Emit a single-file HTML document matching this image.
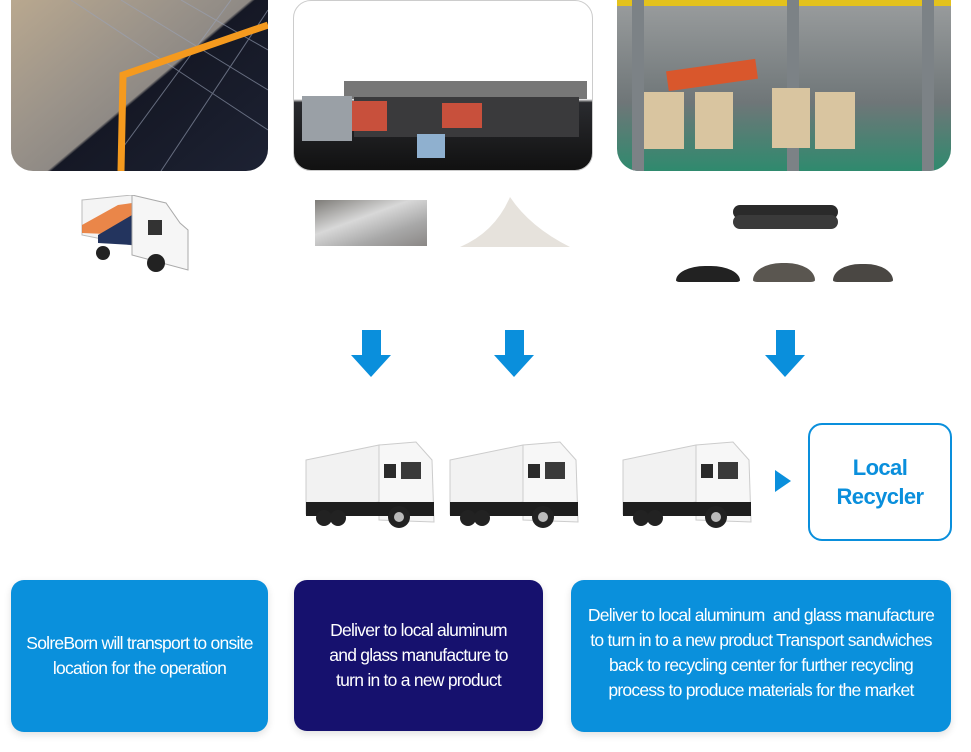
<!DOCTYPE html>
<html><head><meta charset="utf-8"><style>
body{margin:0;width:971px;height:752px;background:#fff;position:relative;overflow:hidden;font-family:"Liberation Sans",sans-serif}
.a{position:absolute}
.box{position:absolute;border-radius:13px;color:#fff;display:flex;align-items:center;justify-content:center;text-align:center;font-size:17.5px;line-height:25px;letter-spacing:-0.75px;box-shadow:0 3px 8px rgba(0,0,0,.12)}
.pile{position:absolute;height:16px;border-radius:50% 50% 8% 8%/100% 100% 10% 10%}
</style></head><body>
<!-- photo 1 -->
<div class="a" style="left:11px;top:0;width:257px;height:171px;border-radius:0 0 22px 22px;overflow:hidden;background:linear-gradient(140deg,#b9a88f 0%,#9c948a 35%,#8f8a85 52%,#151825 53%,#1d2233 100%)">
<svg width="257" height="171" style="position:absolute;left:0;top:0"><g stroke="#9aa3b8" stroke-width="1" opacity=".6"><line x1="60" y1="0" x2="257" y2="130"/><line x1="110" y1="0" x2="257" y2="90"/><line x1="170" y1="0" x2="257" y2="50"/><line x1="257" y1="10" x2="150" y2="171"/><line x1="220" y1="0" x2="110" y2="150"/></g><polyline points="110,171 112,75 257,25" fill="none" stroke="#f59a1e" stroke-width="7"/></svg></div>
<!-- photo 2 -->
<div class="a" style="left:293px;top:0;width:298px;height:169px;border:1px solid #ccc;border-radius:18px;overflow:hidden;background:linear-gradient(#fff 0,#fff 58%,#2a2b2f 60%,#111 100%)">
<div class="a" style="left:50px;top:80px;width:243px;height:18px;background:#777"></div>
<div class="a" style="left:60px;top:96px;width:225px;height:40px;background:#3a3a3c"></div>
<div class="a" style="left:58px;top:100px;width:35px;height:30px;background:#c8503c"></div>
<div class="a" style="left:148px;top:102px;width:40px;height:25px;background:#c8503c"></div>
<div class="a" style="left:8px;top:95px;width:50px;height:45px;background:#9aa0a6"></div>
<div class="a" style="left:123px;top:133px;width:28px;height:24px;background:#8fb0cf"></div>
</div>
<!-- photo 3 -->
<div class="a" style="left:617px;top:0;width:334px;height:171px;border-radius:0 0 22px 22px;overflow:hidden;background:linear-gradient(#9a9d9e,#6f7678 60%,#2f8a6e 100%)">
<div class="a" style="left:0;top:0;width:334px;height:6px;background:#e4c21c"></div>
<div class="a" style="left:15px;top:0;width:12px;height:171px;background:#7c8286"></div>
<div class="a" style="left:170px;top:0;width:12px;height:171px;background:#7c8286"></div>
<div class="a" style="left:305px;top:0;width:12px;height:171px;background:#7c8286"></div>
<div class="a" style="left:50px;top:65px;width:90px;height:20px;background:#d9572c;transform:rotate(-8deg)"></div>
<div class="a" style="left:27px;top:92px;width:40px;height:57px;background:#d9c5a0"></div>
<div class="a" style="left:78px;top:92px;width:38px;height:57px;background:#d9c5a0"></div>
<div class="a" style="left:155px;top:88px;width:38px;height:60px;background:#d9c5a0"></div>
<div class="a" style="left:198px;top:92px;width:40px;height:57px;background:#d9c5a0"></div>
</div>
<!-- small truck -->
<svg class="a" style="left:78px;top:195px" width="130" height="82"><polygon points="4,5 54,0 54,50 4,40" fill="#f4f4f4" stroke="#bbb"/><polygon points="4,30 40,10 54,8 54,40 4,38" fill="#e8722a" opacity=".85"/><polygon points="20,40 54,20 54,50 20,48" fill="#23345e"/><polygon points="54,0 88,8 102,28 110,35 110,75 54,60" fill="#f6f6f6" stroke="#aaa"/><rect x="70" y="25" width="14" height="15" fill="#333"/><circle cx="25" cy="58" r="7" fill="#222"/><circle cx="78" cy="68" r="9" fill="#222"/></svg>
<!-- materials -->
<div class="a" style="left:315px;top:200px;width:112px;height:46px;background:linear-gradient(160deg,#7d7b77,#d8d8d8 40%,#a8a8a8 70%,#8a8785)"></div>
<svg class="a" style="left:455px;top:192px" width="120" height="60"><path d="M5,55 Q40,40 55,5 Q75,35 115,55 Z" fill="#e6e2dc"/></svg>
<svg class="a" style="left:728px;top:200px" width="115" height="35"><rect x="5" y="5" width="105" height="14" rx="7" fill="#2a2a2a"/><rect x="5" y="15" width="105" height="14" rx="7" fill="#3a3a3a"/></svg>
<div class="pile" style="left:676px;top:266px;width:64px;background:#222"></div>
<div class="pile" style="left:753px;top:263px;width:62px;height:19px;background:#5a5650"></div>
<div class="pile" style="left:833px;top:264px;width:60px;height:18px;background:#4a4743"></div>
<!-- arrows -->
<svg class="a" style="left:0;top:0" width="971" height="752">
<g fill="#0a8fdc">
<rect x="362" y="330" width="19" height="26"/><polygon points="351,355 391,355 371,377"/>
<rect x="505" y="330" width="19" height="26"/><polygon points="494,355 534,355 514,377"/>
<rect x="776" y="330" width="19" height="26"/><polygon points="765,355 805,355 785,377"/>
<polygon points="775,470 791,481 775,492"/>
</g>
<defs><g id="t"><polygon points="2,18 75,3 75,60 2,72" fill="#f2f2f2" stroke="#ccc"/><polygon points="75,3 112,0 128,18 130,80 75,78" fill="#f7f7f7" stroke="#ccc"/><rect x="80" y="22" width="12" height="14" fill="#2a2a2a"/><rect x="97" y="20" width="20" height="17" fill="#3a3a3a"/><rect x="2" y="60" width="128" height="14" fill="#1e1e1e"/><circle cx="20" cy="76" r="8" fill="#222"/><circle cx="34" cy="76" r="8" fill="#222"/><circle cx="95" cy="75" r="11" fill="#222"/><circle cx="95" cy="75" r="5" fill="#bbb"/></g></defs>
<use href="#t" x="304" y="442"/><use href="#t" x="448" y="442"/><use href="#t" x="621" y="442"/>
</svg>
<div class="a" style="left:808px;top:423px;width:140px;height:114px;border:2px solid #0a8fdc;border-radius:14px;color:#0a8fdc;font-weight:bold;font-size:22px;line-height:29px;text-align:center;display:flex;align-items:center;justify-content:center;letter-spacing:-0.6px">Local<br>Recycler</div>
<div class="box" style="left:11px;top:580px;width:257px;height:152px;background:#0a90dc">SolreBorn will transport to onsite<br>location for the operation</div>
<div class="box" style="left:294px;top:580px;width:249px;height:151px;background:#16116e">Deliver to local aluminum<br>and glass manufacture to<br>turn in to a new product</div>
<div class="box" style="left:571px;top:580px;width:380px;height:152px;background:#0a90dc;padding-bottom:6px;box-sizing:border-box">Deliver to local aluminum&nbsp; and glass manufacture<br>to turn in to a new product Transport sandwiches<br>back to recycling center for further recycling<br>process to produce materials for the market</div>
</body></html>
